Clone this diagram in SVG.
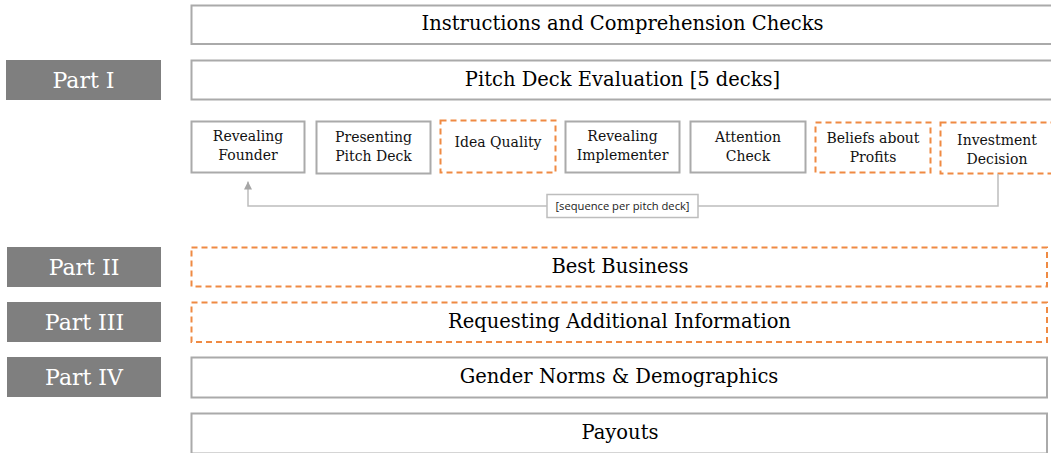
<svg xmlns="http://www.w3.org/2000/svg" width="1051" height="453" viewBox="0 0 1051 453">
  <style>
    .box { fill: #ffffff; stroke: #aaaaaa; stroke-width: 2; }
    .dash { fill: #ffffff; stroke: #ef8a43; stroke-width: 2; stroke-dasharray: 6 4; }
    .part { fill: #7f7f7f; }
    .big { font-family: "DejaVu Serif", "Liberation Serif", serif; font-size: 19.5px; fill: #000000; text-anchor: middle; }
    .small { font-family: "DejaVu Serif", "Liberation Serif", serif; font-size: 14px; fill: #111111; text-anchor: middle; }
    .plab { font-family: "DejaVu Serif", "Liberation Serif", serif; font-size: 22px; fill: #ffffff; text-anchor: middle; }
    .conn { fill: none; stroke: #bdbdbd; stroke-width: 1.5; }
    .note { font-family: "Open Sans", "Liberation Sans", sans-serif; font-size: 11.2px; fill: #222222; text-anchor: middle; }
  </style>
  <defs>
    <marker id="tri" viewBox="0 0 8 8" refX="8" refY="4" markerWidth="8" markerHeight="8" markerUnits="userSpaceOnUse" orient="auto">
      <path d="M0,0 L8,4 L0,8 Z" fill="#a6a6a6"/>
    </marker>
  </defs>

  <!-- section labels -->
  <g id="part-1"><rect class="part" x="6" y="60" width="155" height="40"/><text class="plab" x="83.5" y="88">Part I</text></g>
  <g id="part-2"><rect class="part" x="7" y="247" width="154" height="40"/><text class="plab" x="84" y="275">Part II</text></g>
  <g id="part-3"><rect class="part" x="7" y="302" width="154" height="40"/><text class="plab" x="84.5" y="330">Part III</text></g>
  <g id="part-4"><rect class="part" x="7" y="357" width="154" height="40"/><text class="plab" x="84" y="385">Part IV</text></g>

  <!-- full-width stages -->
  <g id="instructions"><rect class="box" x="191.5" y="5.5" width="862" height="38.5"/><text class="big" x="622.5" y="30">Instructions and Comprehension Checks</text></g>
  <g id="pitch-deck-evaluation"><rect class="box" x="191.5" y="60.5" width="862" height="39"/><text class="big" x="622.5" y="86">Pitch Deck Evaluation [5 decks]</text></g>
  <g id="best-business"><rect class="dash" x="191.5" y="247.5" width="855.5" height="39"/><text class="big" x="620" y="273">Best Business</text></g>
  <g id="additional-info"><rect class="dash" x="191.5" y="302.5" width="855.5" height="39.5"/><text class="big" x="619.5" y="328">Requesting Additional Information</text></g>
  <g id="gender-norms"><rect class="box" x="191.5" y="357.5" width="855.5" height="40"/><text class="big" x="619" y="383">Gender Norms &amp; Demographics</text></g>
  <g id="payouts"><rect class="box" x="191.5" y="413.5" width="855.5" height="40"/><text class="big" x="620" y="439">Payouts</text></g>

  <!-- per-deck sequence -->
  <g id="revealing-founder"><rect class="box" x="191.5" y="121.5" width="113" height="51"/><text class="small" x="248" y="141">Revealing</text><text class="small" x="248" y="160">Founder</text></g>
  <g id="presenting-pitch-deck"><rect class="box" x="316.5" y="121.5" width="114" height="52"/><text class="small" x="373.5" y="142">Presenting</text><text class="small" x="373.5" y="161">Pitch Deck</text></g>
  <g id="idea-quality"><rect class="dash" x="440.5" y="120.5" width="115" height="52"/><text class="small" x="498" y="147">Idea Quality</text></g>
  <g id="revealing-implementer"><rect class="box" x="565.5" y="121.5" width="114" height="51"/><text class="small" x="622.5" y="141">Revealing</text><text class="small" x="622.5" y="160">Implementer</text></g>
  <g id="attention-check"><rect class="box" x="690.5" y="121.5" width="115" height="51"/><text class="small" x="748" y="142">Attention</text><text class="small" x="748" y="161">Check</text></g>
  <g id="beliefs-profits"><rect class="dash" x="815.5" y="122.5" width="115" height="50"/><text class="small" x="873" y="143">Beliefs about</text><text class="small" x="873" y="162">Profits</text></g>
  <g id="investment-decision"><rect class="dash" x="940.5" y="122.5" width="116" height="51"/><text class="small" x="997" y="145">Investment</text><text class="small" x="997" y="164">Decision</text></g>

  <!-- loop back to the first step -->
  <g id="connectors">
    <path class="conn" d="M998,174 V206 H248 V181.5" marker-end="url(#tri)"/>
    <rect x="547" y="194.5" width="151" height="23" fill="#ffffff" stroke="#bdbdbd" stroke-width="1.5"/>
    <text class="note" x="622.5" y="210">[sequence per pitch deck]</text>
  </g>
</svg>
